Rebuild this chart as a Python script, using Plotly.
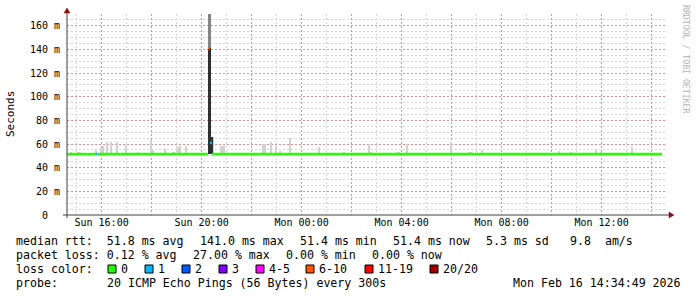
import plotly.graph_objects as go
import pandas as pd

# ---------------- data ----------------
smoke_time = ["2026-02-15 14:45", "2026-02-15 15:00", "2026-02-15 15:05", "2026-02-15 15:45",
              "2026-02-15 15:55", "2026-02-15 16:00", "2026-02-15 16:10", "2026-02-15 16:20",
              "2026-02-15 16:35", "2026-02-15 16:55", "2026-02-15 17:00", "2026-02-15 17:25",
              "2026-02-15 17:55", "2026-02-15 18:00", "2026-02-15 18:30", "2026-02-15 18:50",
              "2026-02-15 19:00", "2026-02-15 19:05", "2026-02-15 19:20", "2026-02-15 20:05",
              "2026-02-15 20:10", "2026-02-15 20:25", "2026-02-15 20:45", "2026-02-15 20:50",
              "2026-02-15 21:20", "2026-02-15 22:25", "2026-02-15 22:30", "2026-02-15 22:45",
              "2026-02-15 22:55", "2026-02-15 23:05", "2026-02-15 23:30", "2026-02-15 23:35",
              "2026-02-15 23:45", "2026-02-16 00:40", "2026-02-16 01:40", "2026-02-16 02:40",
              "2026-02-16 02:45", "2026-02-16 03:50", "2026-02-16 04:10", "2026-02-16 05:55",
              "2026-02-16 06:40", "2026-02-16 06:45", "2026-02-16 07:10", "2026-02-16 09:40",
              "2026-02-16 10:05", "2026-02-16 10:15", "2026-02-16 10:45", "2026-02-16 11:10",
              "2026-02-16 11:45", "2026-02-16 11:55", "2026-02-16 13:10"]
smoke_max = [53, 53.5, 53.5, 54.7, 57, 58, 61.5, 61.5, 61.5, 59, 52.5, 53, 63.7, 55, 56, 53,
             57.5, 58, 58, 52.7, 52.5, 66, 58, 58, 52.5, 60, 60, 62, 58.6, 54, 65.5, 52.5,
             52.5, 57.6, 53.5, 60, 53, 53, 60, 62, 53, 53, 55, 52.5, 52.5, 54, 53.5, 52.5,
             56, 53, 57.5]
smoke_min = 51.2

# dense smoke during the outage spike
dense_time = ["2026-02-15 20:15", "2026-02-15 20:20"]
dense_top = [141.0, 66.0]
outer_time = ["2026-02-15 20:15"]
outer_bottom = [141.0]
outer_top = [175.0]

# median rtt, piecewise by loss bin
med_start = ["2026-02-15 14:35", "2026-02-15 15:45", "2026-02-15 15:50",
             "2026-02-15 20:15", "2026-02-15 20:20", "2026-02-15 20:25"]
med_end = ["2026-02-15 15:45", "2026-02-15 15:50", "2026-02-15 20:15",
           "2026-02-15 20:20", "2026-02-15 20:25", "2026-02-16 14:25"]
med_value = [51.6, 51.6, 51.6, 141.0, 61.0, 51.6]
med_loss_bin = [0, 1, 0, 5, 1, 0]

loss_labels = ["0", "1", "2", "3", "4-5", "6-10", "11-19", "20/20"]
loss_colors = ["#26ff00", "#00b8ff", "#0059ff", "#7e00ff", "#ff00ff", "#ff5500", "#ff0000", "#a00000"]

x_tick_vals = ["2026-02-15 16:00", "2026-02-15 18:00", "2026-02-15 20:00", "2026-02-15 22:00",
               "2026-02-16 00:00", "2026-02-16 02:00", "2026-02-16 04:00", "2026-02-16 06:00",
               "2026-02-16 08:00", "2026-02-16 10:00", "2026-02-16 12:00", "2026-02-16 14:00"]
x_tick_text = ["Sun 16:00", "", "Sun 20:00", "", "Mon 00:00", "", "Mon 04:00", "",
               "Mon 08:00", "", "Mon 12:00", ""]
y_tick_vals = [0, 20, 40, 60, 80, 100, 120, 140, 160]
y_tick_text = ["0\u00a0\u00a0", "20 m", "40 m", "60 m", "80 m", "100 m", "120 m", "140 m", "160 m"]

rtt_stats = [51.8, 141.0, 51.4, 51.4]        # avg, max, min, now
rtt_sd = 5.3
rtt_ams = 9.8
loss_stats = [0.12, 27.00, 0.00, 0.00]       # avg, max, min, now
probe_text = "20 ICMP Echo Pings (56 Bytes) every 300s"
stamp_text = "Mon Feb 16 14:34:49 2026"

# ---------------- layout helpers ----------------
W, H = 697, 297
PL, PT, PW, PH = 67, 14, 600, 201
X0, X1 = "2026-02-15 14:37", "2026-02-16 14:37"
Y0, Y1 = 0, 170
MONO = "DejaVu Sans Mono"
STEP = 300000  # 5 min in ms


def px(x):
    return (x - PL) / PW


def py(y):
    return (PT + PH - y) / PH


fig = go.Figure()

# light smoke
fig.add_trace(go.Bar(x=smoke_time, y=[v - smoke_min for v in smoke_max], base=smoke_min,
                     width=STEP, offset=0, marker=dict(color="#d2d2d2", line=dict(width=0)),
                     hoverinfo="skip"))
# outer part of spike
fig.add_trace(go.Bar(x=outer_time, y=[t - b for t, b in zip(outer_top, outer_bottom)],
                     base=outer_bottom, width=STEP * 1.4, offset=0,
                     marker=dict(color="#858585", line=dict(width=0)), hoverinfo="skip"))
# dense smoke
fig.add_trace(go.Bar(x=dense_time, y=[v - smoke_min for v in dense_top], base=smoke_min,
                     width=STEP * 1.4, offset=0, marker=dict(color="#303030", line=dict(width=0)),
                     hoverinfo="skip"))

# median line segments coloured by loss
for s, e, v, b in zip(med_start, med_end, med_value, med_loss_bin):
    fig.add_trace(go.Scatter(x=[s, e], y=[v, v], mode="lines",
                             line=dict(color=loss_colors[b], width=2.4), hoverinfo="skip"))

grid_major = "#de8e8e"
grid_minor = "#d6d6d6"
hours_all = pd.date_range("2026-02-15 15:00", "2026-02-16 14:00", freq="1h")
odd_hours = hours_all[hours_all.hour % 2 == 1].strftime("%Y-%m-%d %H:%M").tolist()
y_minor = [v for v in range(5, 170, 5) if v % 20 != 0]

fig.update_layout(
    width=W, height=H, margin=dict(l=PL, r=W - PL - PW, t=PT, b=H - PT - PH),
    paper_bgcolor="white", plot_bgcolor="white", showlegend=False,
    barmode="overlay", bargap=0,
    font=dict(family=MONO, color="black"),
    xaxis=dict(type="date", range=[X0, X1], tickmode="array", tickvals=x_tick_vals,
               ticktext=x_tick_text, showgrid=True, gridcolor=grid_major, griddash="2px,2px",
               gridwidth=1, zeroline=False, showline=False, ticks="",
               tickfont=dict(family=MONO, size=10, color="black"),
               minor=dict(tickmode="array", tickvals=odd_hours, showgrid=True,
                          gridcolor=grid_minor, griddash="2px,2px", gridwidth=1, ticks="")),
    yaxis=dict(range=[Y0, Y1], tickmode="array", tickvals=y_tick_vals, ticktext=y_tick_text,
               showgrid=True, gridcolor=grid_major, griddash="2px,2px", gridwidth=1,
               zeroline=False, showline=False, ticks="",
               tickfont=dict(family=MONO, size=10, color="black"), ticklabelstandoff=6,
               minor=dict(tickmode="array", tickvals=y_minor, showgrid=True,
                          gridcolor=grid_minor, griddash="2px,2px", gridwidth=1, ticks="")),
)

shapes = []
axis_col = "#404040"
arrow_col = "#8b1010"
# axes
shapes.append(dict(type="line", xref="paper", yref="paper", x0=px(63), x1=px(670),
                   y0=py(215), y1=py(215), line=dict(color=axis_col, width=1)))
shapes.append(dict(type="line", xref="paper", yref="paper", x0=px(67), x1=px(67),
                   y0=py(218), y1=py(11), line=dict(color=axis_col, width=1)))
# arrows
shapes.append(dict(type="path", xref="paper", yref="paper",
                   path=f"M {px(64)},{py(13)} L {px(70)},{py(13)} L {px(67)},{py(8)} Z",
                   fillcolor=arrow_col, line=dict(color=arrow_col, width=0.5)))
shapes.append(dict(type="path", xref="paper", yref="paper",
                   path=f"M {px(669)},{py(212)} L {px(669)},{py(218)} L {px(674)},{py(215)} Z",
                   fillcolor=arrow_col, line=dict(color=arrow_col, width=0.5)))

ann = []


def text(s, x, y, anchor="left", size=11.6, color="black", angle=0):
    ann.append(dict(text=s.replace(" ", "\u00a0"), xref="paper", yref="paper",
                    x=px(x), y=py(y), xanchor=anchor, yanchor="middle", showarrow=False,
                    textangle=angle, font=dict(family=MONO, size=size, color=color)))


L1, L2, L3, L4 = 241, 255, 269, 283
text(f"median rtt:  {rtt_stats[0]:.1f} ms avg", 14, L1)
text(f"{rtt_stats[1]:.1f} ms max", 198, L1)
text(f"{rtt_stats[2]:.1f} ms min", 298, L1)
text(f"{rtt_stats[3]:.1f} ms now", 391, L1)
text(f"{rtt_sd:.1f} ms sd", 484, L1)
text(f"{rtt_ams:.1f}  am/s", 568, L1)

text(f"packet loss: {loss_stats[0]:.2f} % avg", 14, L2)
text(f"{loss_stats[1]:.2f} % max", 191, L2)
text(f"{loss_stats[2]:.2f} % min", 284, L2)
text(f"{loss_stats[3]:.2f} % now", 370, L2)

text("loss color:", 14, L3)
box_x = [108, 145, 182, 219, 256, 306, 365, 430]
for bx, lab, col in zip(box_x, loss_labels, loss_colors):
    shapes.append(dict(type="rect", xref="paper", yref="paper", x0=px(bx), x1=px(bx + 8),
                       y0=py(273), y1=py(265), fillcolor=col, line=dict(color="black", width=1)))
    text(lab, bx + 11, L3)

text("probe:", 14, L4)
text(probe_text, 105, L4)
text(stamp_text, 683, L4, anchor="right")

text("Seconds", 11, 114, anchor="center", size=11, angle=-90)
text("RRDTOOL / TOBI OETIKER", 686, 59, anchor="center", size=8.2, color="#b4b4b4", angle=90)

fig.update_layout(shapes=shapes, annotations=ann)
fig.write_html("out.html")
